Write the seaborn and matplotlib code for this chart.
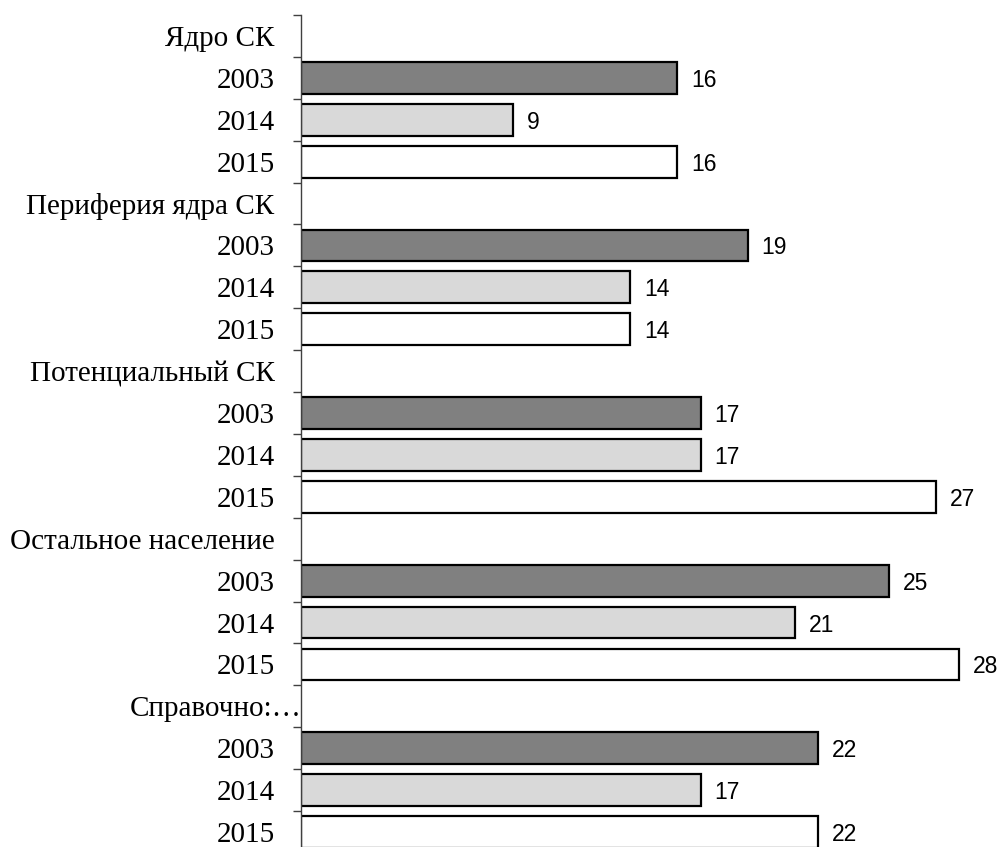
import matplotlib
matplotlib.use("Agg")
import matplotlib.pyplot as plt
import matplotlib.transforms as mtransforms
import seaborn as sns
import pandas as pd
import numpy as np

groups = ["Ядро СК", "Периферия ядра СК", "Потенциальный СК", "Остальное население", "Справочно:…"]
years = ["2003", "2014", "2015"]
v2003 = [16, 19, 17, 25, 22]
v2014 = [9, 14, 17, 21, 17]
v2015 = [16, 14, 27, 28, 22]
colors = {"2003": "#808080", "2014": "#d9d9d9", "2015": "#ffffff"}

rows = []
order = []
labels = []
for gi, g in enumerate(groups):
    order.append(g + "|header")
    labels.append(g)
    for y, vals in zip(years, [v2003, v2014, v2015]):
        key = g + "|" + y
        order.append(key)
        labels.append(y)
        rows.append({"key": key, "year": y, "value": vals[gi]})
df = pd.DataFrame(rows)

sns.set_theme(style="white")
fig = plt.figure(figsize=(9.99, 8.47), dpi=100)
ax = fig.add_axes([301/999, -6/847, 681.5/999, 838/847])

sns.barplot(data=df, x="value", y="key", hue="year", order=order,
            palette=colors, dodge=False, width=0.76, edgecolor="black",
            linewidth=1.6, legend=False, ax=ax, orient="h")

ax.set_xlim(0, 29)
ax.set_ylim(len(order) - 0.5, -0.5)
ax.set_xlabel("")
ax.set_ylabel("")
ax.set_xticks([])

# label positions as minor ticks, boundaries as major ticks
ax.set_yticks(np.arange(len(order) + 1) - 0.5)
ax.set_yticklabels([])
ax.set_yticks(np.arange(len(order)), minor=True)
ax.set_yticklabels(labels, minor=True, fontfamily="Liberation Serif", fontsize=21, color="black")
ax.tick_params(axis="y", which="major", length=6, width=1, color="#404040", direction="out", left=True)
ax.tick_params(axis="y", which="minor", length=0, pad=19, left=True)

for lab in ax.get_yticklabels(minor=True):
    if lab.get_text().startswith("Справочно"):
        lab.set_transform(lab.get_transform() + mtransforms.ScaledTranslation(27/100, 0, fig.dpi_scale_trans))

for s in ["top", "right", "bottom"]:
    ax.spines[s].set_visible(False)
ax.spines["left"].set_color("#404040")
ax.spines["left"].set_linewidth(1)

for cont in ax.containers:
    anns = ax.bar_label(cont, fmt="%g", padding=10, fontfamily="Liberation Sans", fontsize=16.5, color="black")
    for a in anns:
        a.set_va("center_baseline")

fig.savefig("out.png", dpi=100)
